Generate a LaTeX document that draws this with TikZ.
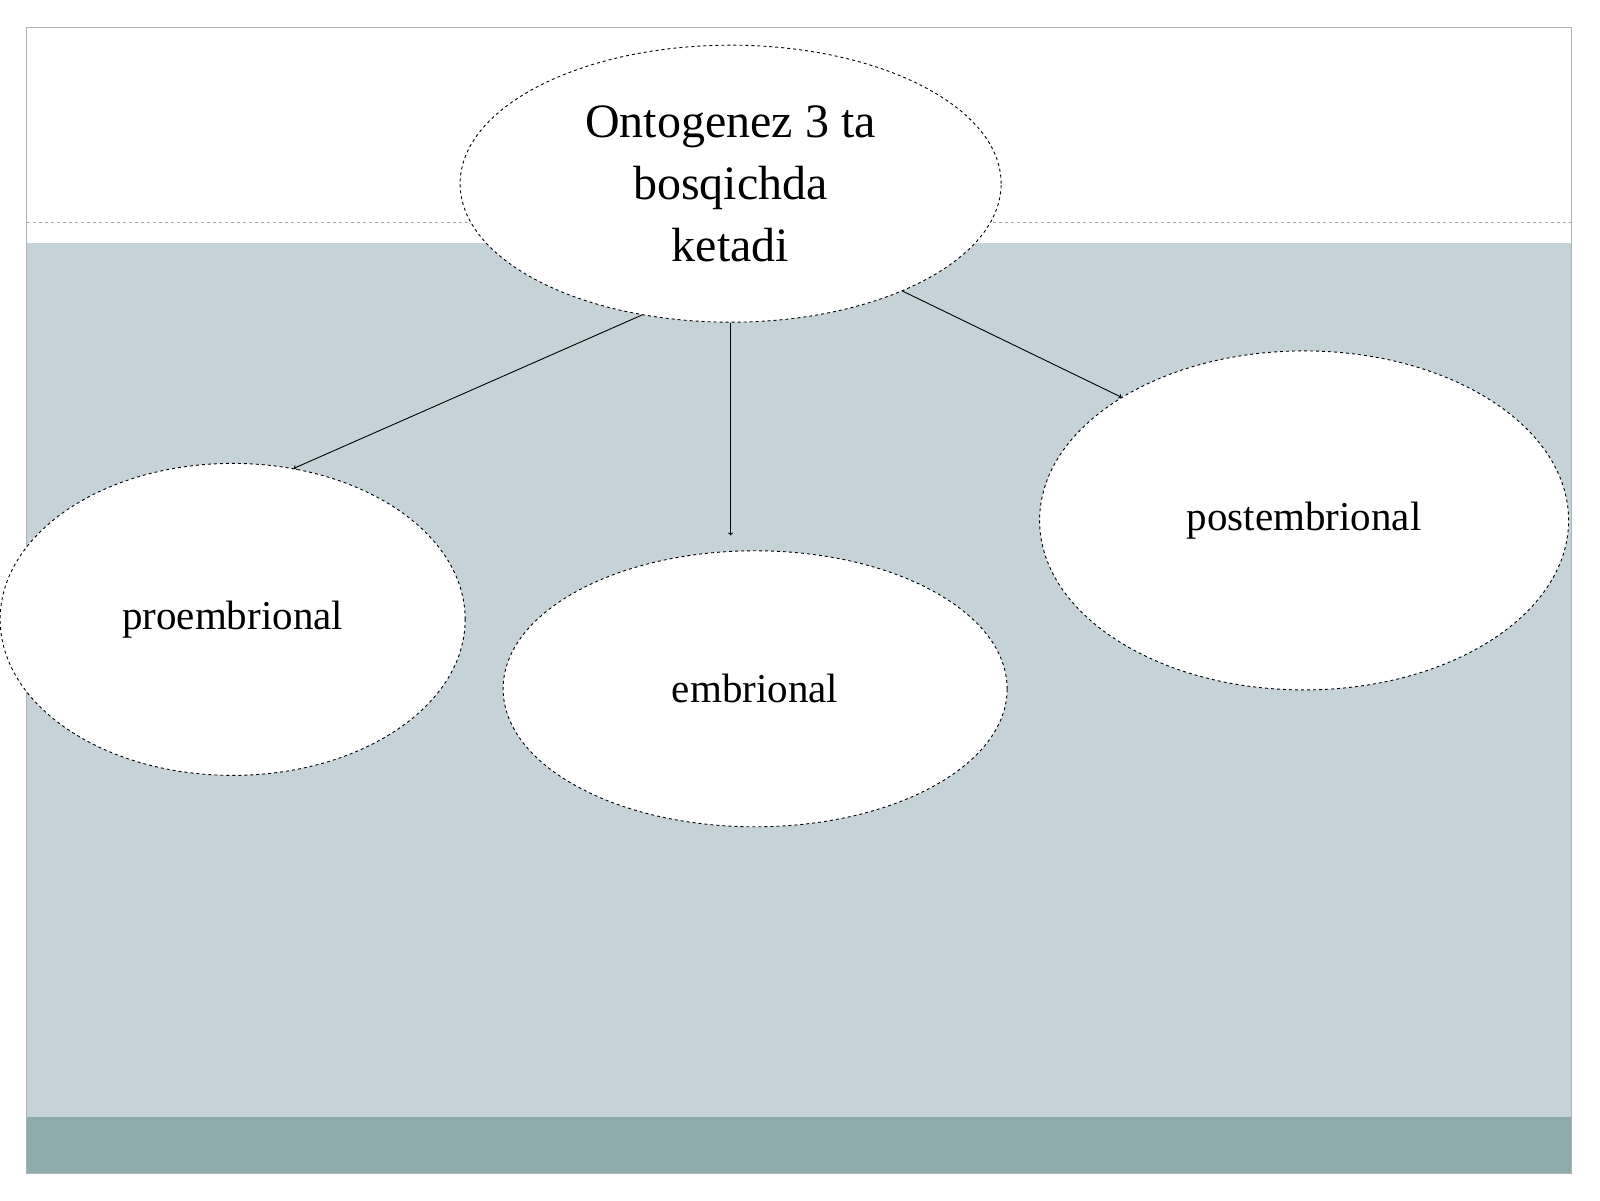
\documentclass[tikz,border=0pt]{standalone}
\usepackage{fontspec}
\setmainfont{Liberation Serif}
\usetikzlibrary{shapes.geometric}
\definecolor{bgblue}{HTML}{C5D3D8}
\definecolor{band}{HTML}{8FABAD}
\begin{document}
\begin{tikzpicture}[x=1.0204pt,y=-1.0204pt,
  ell/.style={ellipse,draw=black,dashed,line width=0.9pt,fill=white,inner sep=0pt,align=center,font=\fontsize{41}{50}\selectfont},
  arr/.style={->,line width=0.9pt,>=to}]
\useasboundingbox (0,0) rectangle (1568,1176);
\fill[white] (0,0) rectangle (1568,1176);
\fill[bgblue] (26,238) rectangle (1540,1095);
\fill[band] (26,1095) rectangle (1540,1150);
\draw[gray!60,line width=0.8pt] (26,27) rectangle (1540,1150);
\draw[gray!70,dashed,line width=0.6pt] (26,218) -- (1540,218);
\node[ell,minimum width=541pt,minimum height=277pt,font=\fontsize{48}{62}\selectfont] (top) at (716,180) {Ontogenez 3 ta\\bosqichda\\ketadi};
\node[ell,minimum width=465pt,minimum height=312pt] (pro) at (228,607) {proembrional};
\node[ell,minimum width=504pt,minimum height=276pt] (emb) at (740,675) {embrional};
\node[ell,minimum width=529pt,minimum height=339pt] (post) at (1278,510) {postembrional};
\draw[arr] (top.-124) -- (pro.68);
\draw[arr,shorten >=15pt] (top.south) -- (top.south |- emb.north);
\draw[arr] (top.-32) -- (post.146);
\end{tikzpicture}
\end{document}
